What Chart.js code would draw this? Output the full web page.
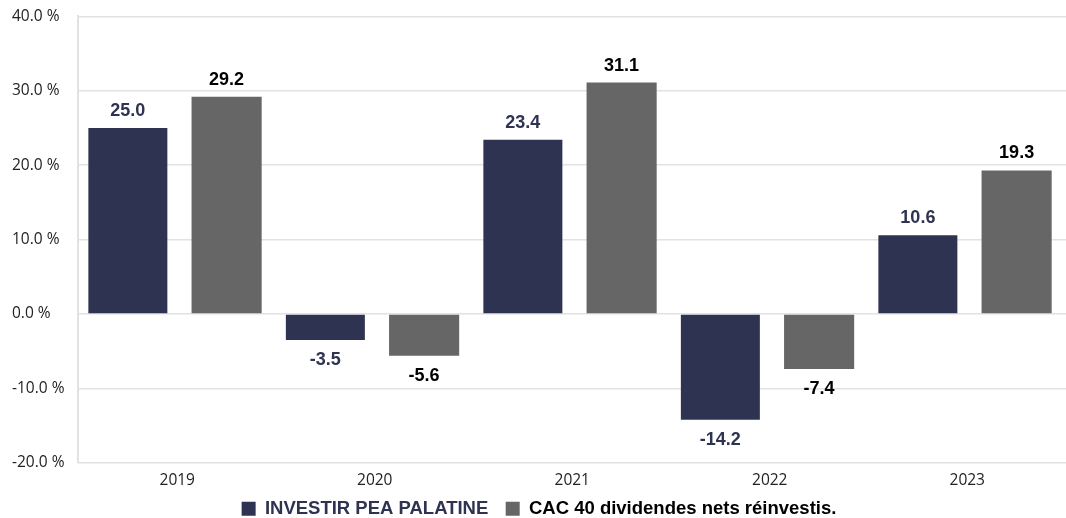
<!DOCTYPE html>
<html>
<head>
<meta charset="utf-8">
<script src="https://cdn.jsdelivr.net/npm/chart.js@4.4.1/dist/chart.umd.min.js"></script>
<style>
  html, body { margin: 0; padding: 0; background: #fff; }
  #wrap { width: 1066px; height: 518px; }
</style>
</head>
<body>
<div id="wrap"><canvas id="perfChart"></canvas></div>
<script>
const years = ["2019", "2020", "2021", "2022", "2023"];
const palatine = [25.0, -3.5, 23.4, -14.2, 10.6];
const cac40 = [29.2, -5.6, 31.1, -7.4, 19.3];
const yTicks = [-20, -10, 0, 10, 20, 30, 40];

const NAVY = "#2f3352";
const GREY = "#666666";

// value labels above / below each bar
const valueLabels = {
  id: "valueLabels",
  afterDatasetsDraw(chart) {
    const ctx = chart.ctx;
    ctx.save();
    ctx.font = "bold 18px 'Liberation Sans', Arial, sans-serif";
    ctx.textAlign = "center";
    chart.data.datasets.forEach((ds, i) => {
      const meta = chart.getDatasetMeta(i);
      meta.data.forEach((bar, j) => {
        const v = ds.data[j];
        ctx.fillStyle = ds.labelColor;
        if (v >= 0) {
          ctx.textBaseline = "alphabetic";
          ctx.fillText(v.toFixed(1), bar.x, bar.y - 12);
        } else {
          ctx.textBaseline = "top";
          ctx.fillText(v.toFixed(1), bar.x, bar.y + 11);
        }
      });
    });
    ctx.restore();
  }
};

new Chart(document.getElementById("perfChart"), {
  type: "bar",
  data: {
    labels: years,
    datasets: [
      { label: "INVESTIR PEA PALATINE", data: palatine, backgroundColor: NAVY, labelColor: NAVY, barPercentage: 0.8, categoryPercentage: 1.0 },
      { label: "CAC 40 dividendes nets réinvestis.", data: cac40, backgroundColor: GREY, labelColor: "#000", barPercentage: 0.71, categoryPercentage: 1.0 },
    ],
  },
  options: {
    responsive: true,
    maintainAspectRatio: false,
    animation: false,
    // legend box carries extra padding, pull it down past the canvas edge
    layout: { padding: { top: 6, right: 0, left: 12, bottom: -10 } },
    scales: {
      x: {
        grid: { display: false, drawTicks: false },
        border: { display: false },
        ticks: { color: "#222", font: { family: "'Open Sans'", size: 15.5 }, padding: 8 },
      },
      y: {
        min: -20,
        max: 40,
        afterBuildTicks: (axis) => { axis.ticks = yTicks.map((v) => ({ value: v })); },
        grid: { color: "#e2e2e2", lineWidth: 1.5, drawTicks: false },
        border: { display: true, color: "#e2e2e2", width: 2 },
        ticks: {
          color: "#222",
          padding: 7,
          crossAlign: "far",
          font: { family: "'Open Sans'", size: 15.5 },
          callback: (v) => v.toFixed(1) + " %",
        },
      },
    },
    plugins: {
      tooltip: { enabled: false },
      legend: {
        position: "bottom",
        labels: {
          boxWidth: 14,
          boxHeight: 14,
          padding: 2,
          font: { family: "'Liberation Sans'", size: 18.5, weight: "bold" },
          // trailing spaces give the gap between the two items
          generateLabels: (chart) => chart.data.datasets.map((ds, i) => ({
            text: i === 0 ? ds.label + "   " : ds.label,
            fillStyle: ds.backgroundColor,
            strokeStyle: ds.backgroundColor,
            lineWidth: 0,
            fontColor: ds.labelColor,
            datasetIndex: i,
            hidden: false,
          })),
        },
      },
    },
  },
  plugins: [valueLabels],
});
</script>
</body>
</html>
